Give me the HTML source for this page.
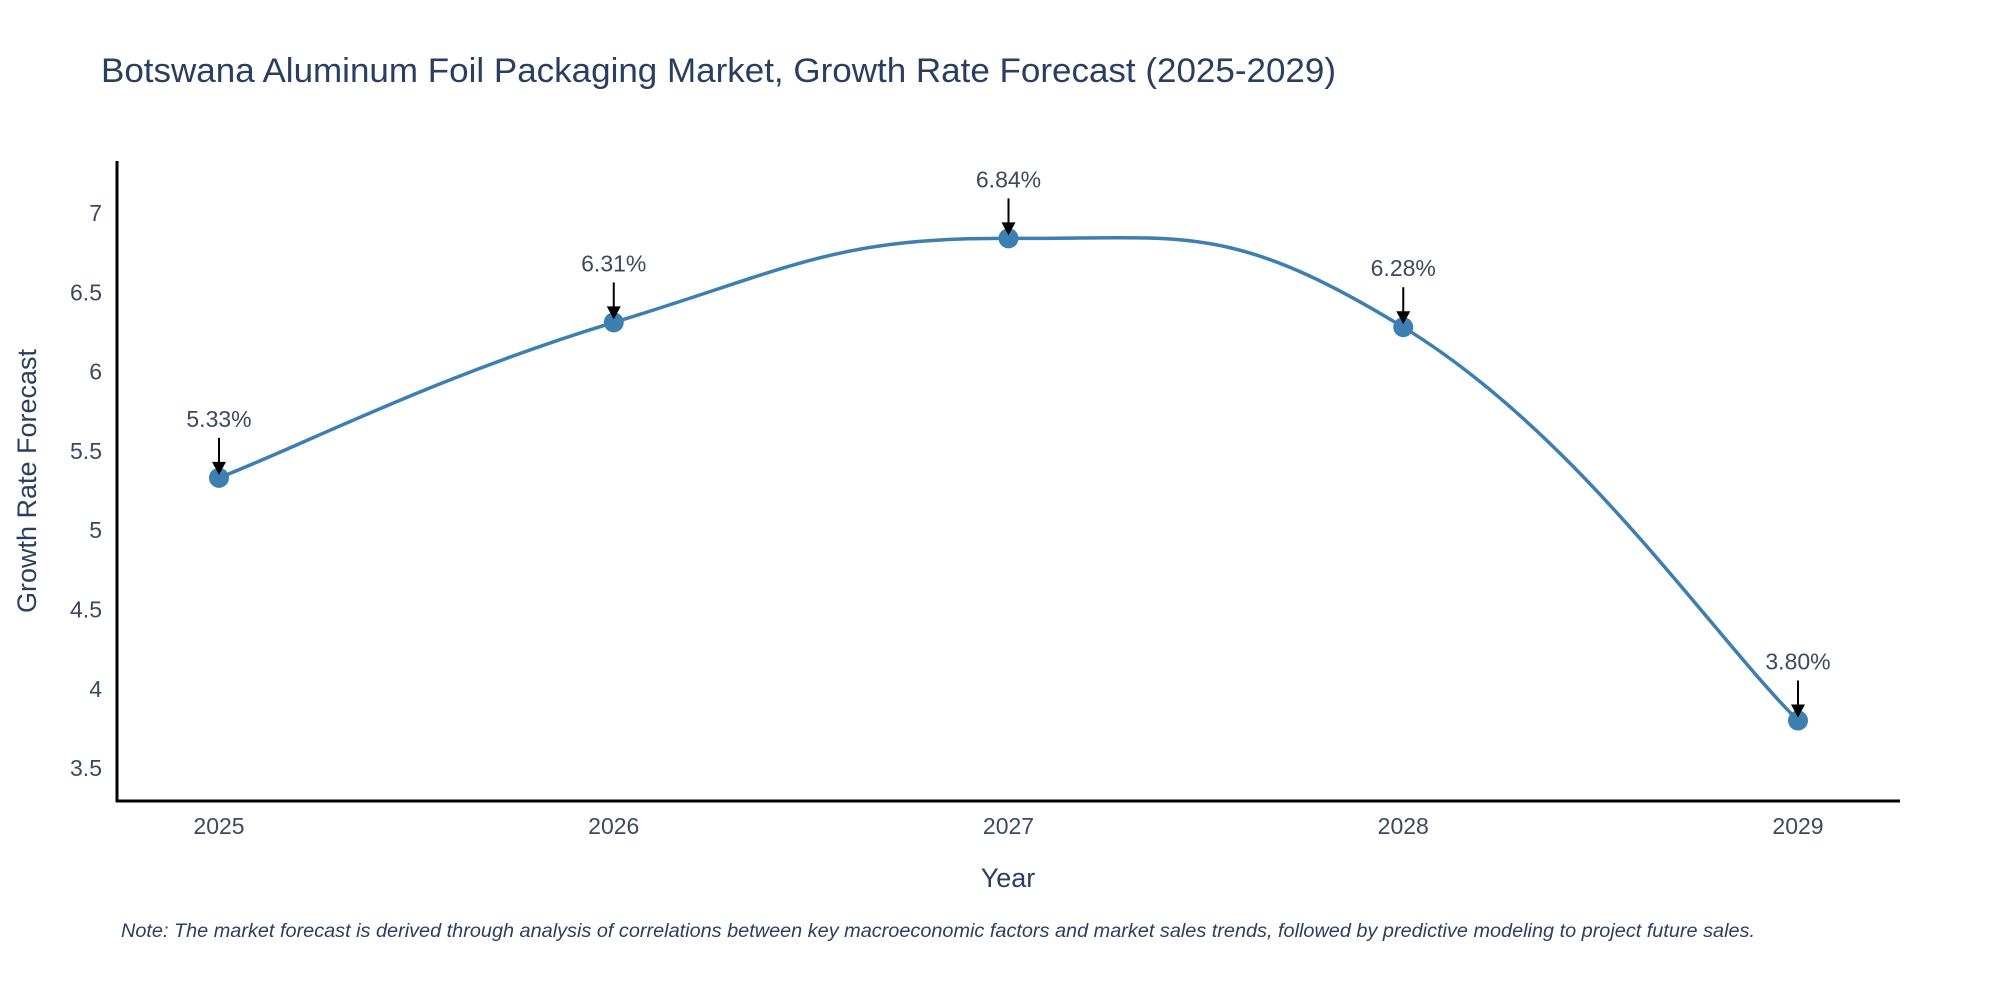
<!DOCTYPE html>
<html><head><meta charset="utf-8"><style>
body{margin:0;background:#fff}
svg{display:block;font-family:"Liberation Sans",sans-serif}
</style></head><body>
<svg width="2000" height="1000" viewBox="0 0 2000 1000">
<text x="101" y="82" font-size="34" fill="#2a3f5f" textLength="1235" lengthAdjust="spacingAndGlyphs">Botswana Aluminum Foil Packaging Market, Growth Rate Forecast (2025-2029)</text>
<g id="yticks"></g>
<g id="xticks"></g>
<line x1="117" y1="161" x2="117" y2="802" stroke="#000" stroke-width="3"/>
<line x1="116" y1="801" x2="1900" y2="801" stroke="#000" stroke-width="3"/>
<path id="line" fill="none" stroke="#3d7fb1" stroke-width="3.5"/>
<g id="marks"></g>
<text x="1008" y="887" font-size="27" fill="#2a3f5f" text-anchor="middle">Year</text>
<text transform="translate(36,481) rotate(-90)" font-size="27" fill="#2a3f5f" text-anchor="middle">Growth Rate Forecast</text>
<text x="121" y="937" font-size="19" font-style="italic" fill="#2a3f5f" textLength="1634" lengthAdjust="spacingAndGlyphs">Note: The market forecast is derived through analysis of correlations between key macroeconomic factors and market sales trends, followed by predictive modeling to project future sales.</text>
</svg>
<script>
const years = ["2025","2026","2027","2028","2029"];
const values = [5.33, 6.31, 6.84, 6.28, 3.80];
const valueLabels = ["5.33%","6.31%","6.84%","6.28%","3.80%"];
const yTickValues = [3.5,4,4.5,5,5.5,6,6.5,7];
const yTickLabels = ["3.5","4","4.5","5","5.5","6","6.5","7"];
const NS="http://www.w3.org/2000/svg";
function xs(i){return 219+i*394.75;}
function ys(v){return 213+(7-v)*158.6;}
function mk(t,a,p){const e=document.createElementNS(NS,t);for(const k in a)e.setAttribute(k,a[k]);p.appendChild(e);return e;}
const yt=document.getElementById('yticks');
yTickValues.forEach((v,i)=>{const t=mk('text',{x:102,y:ys(v)+8,'font-size':23,fill:'#3c4a5e','text-anchor':'end'},yt);


t.textContent=yTickLabels[i];});
const xt=document.getElementById('xticks');
years.forEach((y,i)=>{const t=mk('text',{x:xs(i),y:834,'font-size':23,fill:'#3c4a5e','text-anchor':'middle'},xt);


t.textContent=y;});
const P=values.map((v,i)=>[xs(i),ys(v)]);
let d=`M${P[0][0]},${P[0][1]}`;
for(let i=0;i<P.length-1;i++){const p0=P[Math.max(i-1,0)],p1=P[i],p2=P[i+1],p3=P[Math.min(i+2,P.length-1)];const s=4.5;
d+=` C${p1[0]+(p2[0]-p0[0])/s},${p1[1]+(p2[1]-p0[1])/s} ${p2[0]-(p3[0]-p1[0])/s},${p2[1]-(p3[1]-p1[1])/s} ${p2[0]},${p2[1]}`;}
document.getElementById('line').setAttribute('d',d);
const g=document.getElementById('marks');
P.forEach((p,i)=>{const c=mk('circle',{cx:p[0],cy:p[1],r:10,fill:'#3d7fb1'},g);


const l=mk('line',{x1:p[0],y1:p[1]-40,x2:p[0],y2:p[1]-14,stroke:'#000','stroke-width':2},g);


const a=mk('polygon',{points:`${p[0]-7},${p[1]-16} ${p[0]+7},${p[1]-16} ${p[0]},${p[1]-3}`,fill:'#000'},g);


const t=mk('text',{x:p[0],y:p[1]-51,'font-size':23,fill:'#3c4a5e','text-anchor':'middle'},g);


t.textContent=valueLabels[i];});
</script>
</body></html>
